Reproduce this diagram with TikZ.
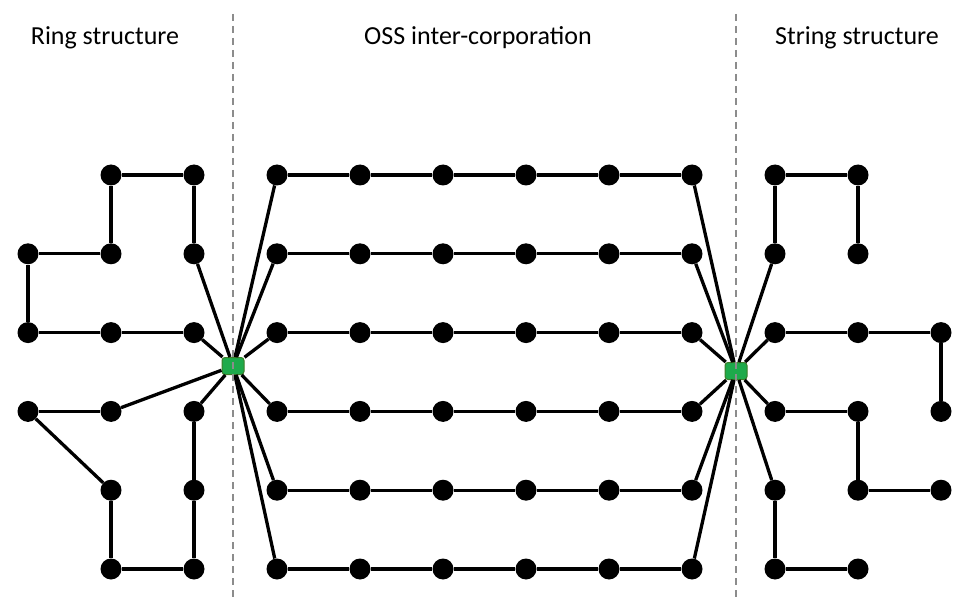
\documentclass[tikz,border=0pt]{standalone}
\usepackage{fontspec}
\setmainfont{Carlito}
\usetikzlibrary{positioning}

\definecolor{hubgreen}{RGB}{30,170,75}
\definecolor{hubrim}{RGB}{60,125,40}
\definecolor{dashgray}{RGB}{140,140,140}

\begin{document}
\begin{tikzpicture}[x=1pt, y=-1pt
        , link/.style={ draw, line width=3.3pt }
        , dot/.style={ circle, fill=black, inner sep=0pt, minimum size=21pt }
        , hub/.style={ rectangle, rounded corners=3pt, fill=hubgreen, draw=hubrim,
                       line width=1pt, inner sep=0pt, minimum width=22pt, minimum height=17pt }
        , divider/.style={ draw=dashgray, line width=2pt, dash pattern=on 7pt off 5pt }
        , title/.style={ anchor=base, font=\fontsize{26}{30}\selectfont }
        ]

        \useasboundingbox (0,0) rectangle (954,599);

        % titles of the three parts
        \node[title] (ring)   at (105,45) {Ring structure};
        \node[title] (oss)    at (478,45) {OSS inter-corporation};
        \node[title] (string) at (857,45) {String structure};

        % ring structure
        \foreach \c/\r in {2/1,3/1,1/2,2/2,3/2,1/3,2/3,3/3,1/4,2/4,3/4,2/5,3/5,2/6,3/6}
            \node[dot] (r\c\r) at (-55+83*\c, 96.2+78.8*\r) {};

        % OSS rows
        \foreach \c in {1,...,6}
            \foreach \r in {1,...,6}
                \node[dot] (o\c\r) at (194+83*\c, 96.2+78.8*\r) {};

        % string structure
        \foreach \c/\r in {1/1,2/1,1/2,2/2,1/3,2/3,3/3,1/4,2/4,3/4,1/5,2/5,3/5,1/6,2/6}
            \node[dot] (s\c\r) at (692+83*\c, 96.2+78.8*\r) {};

        \node[hub] (hl) at (233,366) {};
        \node[hub] (hr) at (736,371) {};

        \path[link] (r21) edge (r31) edge (r22)
                    (r31) edge (r32)
                    (r12) edge (r22) edge (r13)
                    (r13) edge (r23)
                    (r23) edge (r33)
                    (r14) edge (r24) edge (r25)
                    (r25) edge (r26)
                    (r26) edge (r36)
                    (r36) edge (r35)
                    (r35) edge (r34)
                    ;
        \path[link] (hl) edge (r32) edge (r33) edge (r24) edge (r34);

        \foreach \r in {1,...,6} {
            \draw[link] (o1\r) -- (o2\r) -- (o3\r) -- (o4\r) -- (o5\r) -- (o6\r);
            \path[link] (hl) edge (o1\r);
            \path[link] (hr) edge (o6\r);
        }

        \path[link] (hr) edge (s12) edge (s13) edge (s14) edge (s15);
        \path[link] (s11) edge (s21) edge (s12)
                    (s21) edge (s22)
                    (s13) edge (s23)
                    (s23) edge (s33)
                    (s33) edge (s34)
                    (s14) edge (s24)
                    (s24) edge (s25)
                    (s25) edge (s35)
                    (s15) edge (s16)
                    (s16) edge (s26)
                    ;

        % dashed dividers, over the hubs
        \coordinate (d1top) at (233,14);
        \coordinate (d1bot) at (233,599);
        \coordinate (d2top) at (736,14);
        \coordinate (d2bot) at (736,599);
        \draw[divider] (d1top) -- (d1bot);
        \draw[divider] (d2top) -- (d2bot);

    \end{tikzpicture}
\end{document}
